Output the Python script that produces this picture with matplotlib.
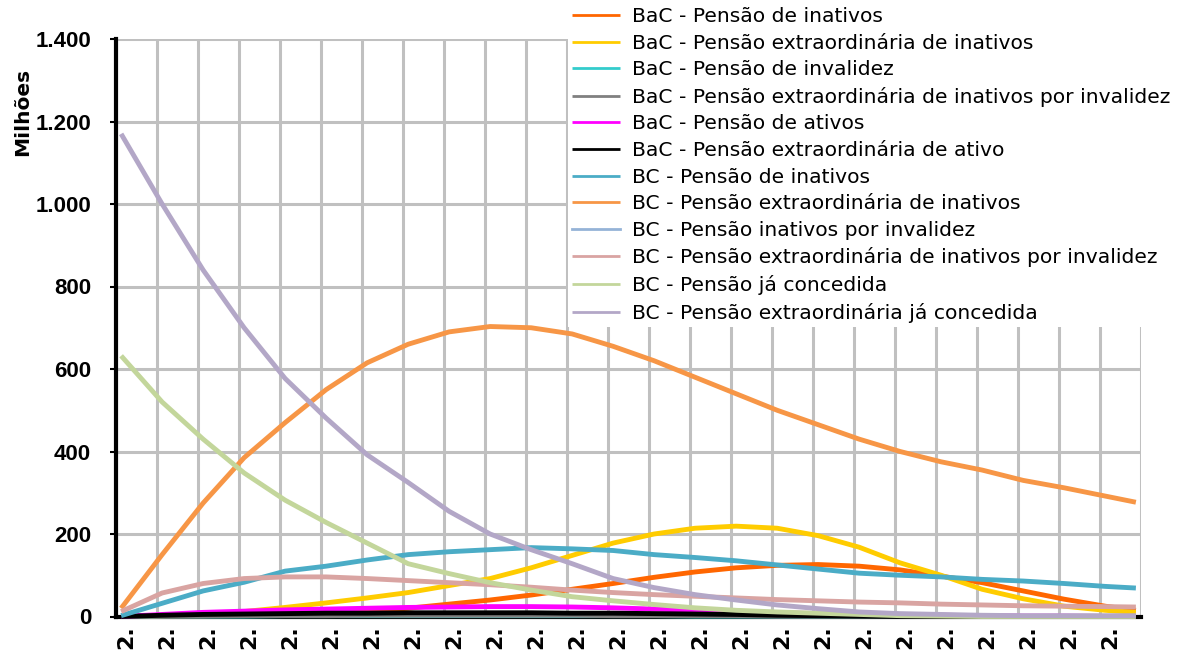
import matplotlib

matplotlib.use("Agg")
import matplotlib.pyplot as plt
import matplotlib.transforms as mtransforms
import numpy as np
from matplotlib.ticker import FixedLocator, FuncFormatter

plt.rcParams["font.family"] = ["DejaVu Sans"]

# category index of the sampled points (yearly categories, one gridline every 4)
cats = [0, 4, 8, 12, 16, 20, 24, 28, 32, 36, 40, 44, 48, 52, 56, 60, 64, 68, 72,
        76, 80, 84, 88, 92, 96, 99]

bac_inativos = [0, 1, 2, 4, 6, 9, 13, 20, 30, 40, 52, 66, 80, 95, 108, 118, 124,
                126, 122, 113, 98, 82, 62, 42, 25, 15]
bac_extra_inativos = [0, 2, 5, 12, 22, 33, 45, 58, 75, 92, 118, 148, 178, 200, 214,
                      219, 214, 196, 168, 130, 100, 66, 43, 25, 15, 10]
bac_invalidez = [0, 1, 1, 1, 2, 2, 2, 2, 2, 2, 2, 2, 2, 2, 1, 1, 1, 1, 1, 1, 1, 0,
                 0, 0, 0, 0]
bac_extra_inv_invalidez = [0, 1, 1, 2, 2, 2, 3, 3, 3, 3, 3, 3, 2, 2, 2, 2, 1, 1, 1,
                           1, 0, 0, 0, 0, 0, 0]
bac_ativos = [0, 5, 10, 13, 16, 18, 20, 22, 23, 24, 24, 23, 21, 18, 15, 12, 9, 7, 5,
              4, 3, 2, 1, 1, 0, 0]
bac_extra_ativo = [0, 3, 5, 6, 7, 8, 8, 9, 9, 9, 9, 8, 8, 7, 6, 5, 3, 2, 1, 0, 0, 0,
                   0, 0, 0, 0]
bc_inativos = [2, 32, 62, 83, 110, 122, 137, 150, 157, 162, 167, 164, 160, 150, 143,
               135, 125, 115, 105, 100, 96, 90, 86, 80, 73, 69]
bc_extra_inativos = [20, 150, 275, 385, 470, 550, 615, 660, 690, 703, 700, 685, 655,
                     620, 580, 540, 500, 465, 430, 400, 375, 355, 330, 312, 292, 277]
bc_inativos_invalidez = [0] * 26
bc_extra_inativos_invalidez = [12, 57, 80, 92, 96, 96, 92, 87, 82, 77, 71, 64, 58,
                               53, 49, 45, 41, 38, 35, 33, 30, 28, 26, 25, 24, 23]
bc_ja_concedida = [632, 520, 430, 348, 282, 228, 178, 128, 104, 82, 64, 48, 38, 29,
                   21, 15, 11, 8, 5, 2, 1, 0, 0, 0, 0, 0]
bc_extra_ja_concedida = [1170, 1000, 840, 700, 577, 481, 392, 325, 255, 200, 162,
                         128, 92, 70, 53, 40, 28, 19, 11, 7, 5, 3, 2, 2, 2, 2]

series = [
    ("BaC - Pensão de inativos", bac_inativos, "#FF6600"),
    ("BaC - Pensão extraordinária de inativos", bac_extra_inativos, "#FFCC00"),
    ("BaC - Pensão de invalidez", bac_invalidez, "#33CCCC"),
    ("BaC - Pensão extraordinária de inativos por invalidez",
     bac_extra_inv_invalidez, "#808080"),
    ("BaC - Pensão de ativos", bac_ativos, "#FF00FF"),
    ("BaC - Pensão extraordinária de ativo", bac_extra_ativo, "#000000"),
    ("BC - Pensão de inativos", bc_inativos, "#4BACC6"),
    ("BC - Pensão extraordinária de inativos", bc_extra_inativos, "#F79646"),
    ("BC - Pensão inativos por invalidez", bc_inativos_invalidez, "#95B3D7"),
    ("BC - Pensão extraordinária de inativos por invalidez",
     bc_extra_inativos_invalidez, "#D9A4A2"),
    ("BC - Pensão já concedida", bc_ja_concedida, "#C3D69B"),
    ("BC - Pensão extraordinária já concedida", bc_extra_ja_concedida, "#B3A7C7"),
]

fig = plt.figure(figsize=(11.84, 6.59), dpi=100)
ax = fig.add_axes([116 / 1184, 1 - 616.5 / 659, 1025 / 1184, 577.5 / 659])

for name, vals, color in series:
    if max(vals) == 0:
        # all-zero series hides under the axis line
        ax.plot(cats, vals, color=color, lw=3.5, label=name, zorder=1)
    else:
        ax.plot(cats, vals, color=color, lw=3.5, label=name, zorder=3,
                solid_capstyle="butt", clip_on=False)

ax.set_xlim(-0.5, 99.5)
ax.set_ylim(0, 1400)

# gridlines on category boundaries, labels every 4 categories
ax.xaxis.set_minor_locator(FixedLocator(np.arange(-0.5, 100, 4)))
ax.set_xticks(np.arange(0, 100, 4))
ax.set_xticklabels(["2."] * 25, rotation=90, fontweight="bold", fontsize=16)
ax.tick_params(axis="x", which="both", length=0, pad=6)
shift = mtransforms.ScaledTranslation(5 / 100, 0, fig.dpi_scale_trans)
for lab in ax.get_xticklabels():
    lab.set_transform(lab.get_transform() + shift)
ax.grid(True, which="minor", axis="x", color="#C0C0C0", lw=2.2, zorder=0)

ax.set_yticks(np.arange(0, 1401, 200))
ax.yaxis.set_major_formatter(
    FuncFormatter(lambda v, p: f"{v:,.0f}".replace(",", ".")))
for lab in ax.get_yticklabels():
    lab.set_fontweight("bold")
    lab.set_fontsize(16)
    lab.set_family("Liberation Sans")
ax.tick_params(axis="y", length=4, width=1.5, pad=14)
ax.grid(True, which="major", axis="y", color="#C0C0C0", lw=2.2, zorder=0)
ax.set_axisbelow(True)

for side in ["top", "right"]:
    ax.spines[side].set_visible(False)
ax.spines["left"].set_linewidth(3)
ax.spines["bottom"].set_linewidth(3)

fig.text(23 / 1184, 1 - 112 / 659, "Milhões", rotation=90, ha="center",
         va="center", fontweight="bold", fontsize=14.5)

leg = fig.legend(
    loc="upper left",
    bbox_to_anchor=(568 / 1184, 1 - 3 / 659),
    fontsize=14.6,
    frameon=True,
    framealpha=1,
    facecolor="white",
    edgecolor="none",
    handlelength=2.36,
    handletextpad=0.59,
    labelspacing=0.375,
    borderpad=0.2,
    borderaxespad=0,
    fancybox=False,
)
for line in leg.get_lines():
    line.set_linewidth(2)

fig.savefig("out.png", dpi=100)
